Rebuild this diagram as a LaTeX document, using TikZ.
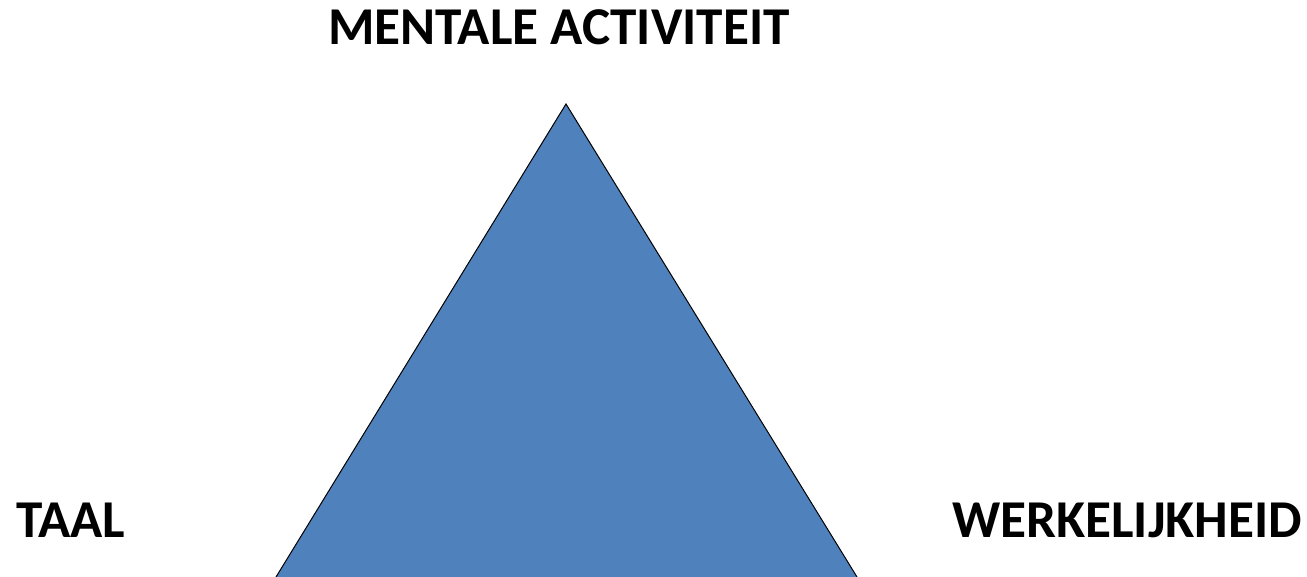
\documentclass[tikz,border=0pt]{standalone}
\usepackage{fontspec}
\setmainfont{Carlito}
\definecolor{triblue}{RGB}{79,129,189}
\begin{document}
\begin{tikzpicture}[x=1pt,y=1pt,
  lbl/.style={font=\bfseries\fontsize{53.2}{60}\selectfont, inner sep=0pt, anchor=base west},
  edge/.style={draw=black, line width=1pt, line join=miter}]
\useasboundingbox (0,0) rectangle (1307,577);
\begin{scope}
\clip (0,0) rectangle (1307,577);
\coordinate (apex) at (566,473);
\coordinate (bl) at (276,0);
\coordinate (br) at (857,0);
\fill[triblue] (bl) -- (apex) -- (br) -- cycle;
\draw[edge] (bl) -- (apex) -- (br);
\end{scope}
\node[lbl] (ment) at (328,532) {MENTALE ACTIVITEIT};
\node[lbl] (taal) at (16,39) {TAAL};
\node[lbl] (werk) at (952,39) {WERKELIJKHEID};
\end{tikzpicture}
\end{document}
